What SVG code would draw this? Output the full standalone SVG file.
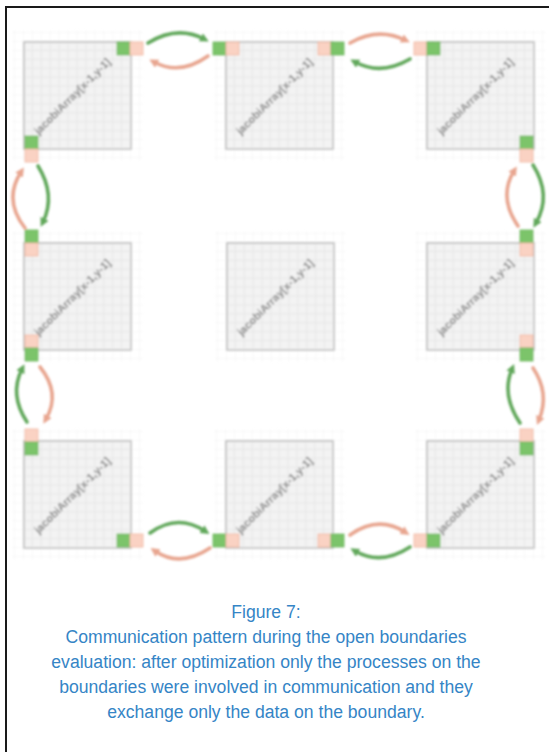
<svg xmlns="http://www.w3.org/2000/svg" xmlns:xlink="http://www.w3.org/1999/xlink" width="549" height="752" viewBox="0 0 549 752">
  <style>
    .frame { stroke: #1a1a1a; stroke-width: 2; fill: none; }
    .cell { fill: #f3f3f3; stroke: #bcbcbc; stroke-width: 1.6; }
    .halo { fill: url(#faintGrid); }
    .grid { fill: url(#grid); }
    .lbl { font-family: "Liberation Sans", Arial, sans-serif; font-size: 11px; font-weight: bold; fill: #858585; text-anchor: middle; }
    .own { fill: #7cc46a; stroke: #69b458; stroke-width: 0.8; }
    .ghost { fill: #fad2c3; stroke: #f0b49e; stroke-width: 0.8; }
    .send-g { fill: none; stroke: #62a85c; stroke-width: 3.6; stroke-linecap: round; marker-end: url(#headG); }
    .send-p { fill: none; stroke: #e8a690; stroke-width: 3.6; stroke-linecap: round; marker-end: url(#headP); }
    .cap { font-family: "Liberation Sans", Arial, sans-serif; font-size: 17.6px; fill: #3585c6; text-anchor: middle; }
  </style>
  <defs>
    <pattern id="grid" patternUnits="userSpaceOnUse" width="8.9167" height="8.9167">
      <path d="M8.9167,0 V8.9167 M0,8.9167 H8.9167" stroke="#d6d6d6" stroke-width="0.9" fill="none"/>
    </pattern>
    <pattern id="faintGrid" patternUnits="userSpaceOnUse" width="8.9167" height="8.9167">
      <path d="M8.9167,0 V8.9167 M0,8.9167 H8.9167" stroke="#f0f0f0" stroke-width="0.9" fill="none"/>
    </pattern>
    <marker id="headG" markerUnits="userSpaceOnUse" markerWidth="9" markerHeight="9" viewBox="0 0 10 10" refX="4" refY="5" orient="auto">
      <path d="M0,0 L10,5 L0,10 z" fill="#62a85c"/>
    </marker>
    <marker id="headP" markerUnits="userSpaceOnUse" markerWidth="9" markerHeight="9" viewBox="0 0 10 10" refX="4" refY="5" orient="auto">
      <path d="M0,0 L10,5 L0,10 z" fill="#e8a690"/>
    </marker>
    <!-- one process sub-domain: shaded grid with its array label -->
    <g id="block">
      <rect class="halo" x="-12" y="-12" width="131" height="131"/>
      <rect class="cell" x="0" y="0" width="107" height="107"/>
      <rect class="grid" x="0" y="0" width="107" height="107"/>
      <text class="lbl" transform="translate(51,57) rotate(-45)">jacobiArray[x-1,y-1]</text>
    </g>
    <filter id="soft" x="-5%" y="-5%" width="110%" height="110%">
      <feGaussianBlur stdDeviation="0.8"/>
    </filter>
  </defs>

  <rect x="0" y="0" width="549" height="752" fill="#ffffff"/>

  <!-- page frame -->
  <path class="frame" d="M5,7 H549 M6,7 V752"/>

  <g filter="url(#soft)">
    <!-- top row -->
    <g id="blk-tl" transform="translate(24,42)"><use href="#block"/></g>
    <g id="blk-tm" transform="translate(226,42)"><use href="#block"/></g>
    <g id="blk-tr" transform="translate(427,42)"><use href="#block"/></g>
    <!-- middle row -->
    <g id="blk-ml" transform="translate(24,243)"><use href="#block"/></g>
    <g id="blk-mm" transform="translate(227,243)"><use href="#block"/></g>
    <g id="blk-mr" transform="translate(427,243)"><use href="#block"/></g>
    <!-- bottom row -->
    <g id="blk-bl" transform="translate(24,441)"><use href="#block"/></g>
    <g id="blk-bm" transform="translate(226,441)"><use href="#block"/></g>
    <g id="blk-br" transform="translate(427,441)"><use href="#block"/></g>

    <!-- boundary cells: green = owned data, pink = ghost copy -->
    <g id="halo-cells">
      <rect class="own" x="117" y="42" width="13" height="13"/>
      <rect class="ghost" x="130" y="42" width="13" height="13"/>
      <rect class="own" x="213" y="42" width="13" height="13"/>
      <rect class="ghost" x="226" y="42" width="13" height="13"/>
      <rect class="ghost" x="318" y="42" width="13" height="13"/>
      <rect class="own" x="331" y="42" width="13" height="13"/>
      <rect class="ghost" x="414" y="42" width="13" height="13"/>
      <rect class="own" x="427" y="42" width="13" height="13"/>

      <rect class="own" x="25" y="136" width="13" height="13"/>
      <rect class="ghost" x="25" y="149" width="13" height="13"/>
      <rect class="own" x="520" y="136" width="13" height="13"/>
      <rect class="ghost" x="520" y="149" width="13" height="13"/>

      <rect class="own" x="25" y="230" width="13" height="13"/>
      <rect class="ghost" x="25" y="243" width="13" height="13"/>
      <rect class="ghost" x="25" y="335" width="13" height="13"/>
      <rect class="own" x="25" y="348" width="13" height="13"/>
      <rect class="own" x="520" y="230" width="13" height="13"/>
      <rect class="ghost" x="520" y="243" width="13" height="13"/>
      <rect class="ghost" x="520" y="335" width="13" height="13"/>
      <rect class="own" x="520" y="348" width="13" height="13"/>

      <rect class="ghost" x="25" y="429" width="13" height="13"/>
      <rect class="own" x="25" y="442" width="13" height="13"/>
      <rect class="ghost" x="520" y="429" width="13" height="13"/>
      <rect class="own" x="520" y="442" width="13" height="13"/>

      <rect class="own" x="117" y="534" width="13" height="13"/>
      <rect class="ghost" x="130" y="534" width="13" height="13"/>
      <rect class="own" x="213" y="534" width="13" height="13"/>
      <rect class="ghost" x="226" y="534" width="13" height="13"/>
      <rect class="ghost" x="318" y="534" width="13" height="13"/>
      <rect class="own" x="331" y="534" width="13" height="13"/>
      <rect class="ghost" x="414" y="534" width="13" height="13"/>
      <rect class="own" x="427" y="534" width="13" height="13"/>
    </g>

    <!-- message exchanges between neighbouring processes -->
    <g id="connectors">
      <path class="send-g" d="M148,43 Q177,25 204,39"/>
      <path class="send-p" d="M208,56 Q180,76 154,62"/>
      <path class="send-p" d="M350,43 Q378,27 405,40"/>
      <path class="send-g" d="M410,59 Q381,76 355,62"/>

      <path class="send-p" d="M25,228 Q3,200 21,172"/>
      <path class="send-g" d="M38,166 Q56,195 43,222"/>
      <path class="send-g" d="M27,422 Q9,395 22,369"/>
      <path class="send-p" d="M40,367 Q61,393 46,419"/>

      <path class="send-p" d="M518,226 Q498,197 514,171"/>
      <path class="send-g" d="M533,165 Q552,195 536,223"/>
      <path class="send-g" d="M520,423 Q501,395 512,369"/>
      <path class="send-p" d="M533,368 Q550,393 539,420"/>

      <path class="send-g" d="M150,533 Q177,513 205,531"/>
      <path class="send-p" d="M210,548 Q180,568 155,551"/>
      <path class="send-p" d="M350,535 Q378,515 405,532"/>
      <path class="send-g" d="M410,547 Q381,566 355,551"/>
    </g>
  </g>

  <!-- caption -->
  <g id="caption">
    <text class="cap" x="266" y="618">Figure 7:</text>
    <text class="cap" x="266" y="643">Communication pattern during the open boundaries</text>
    <text class="cap" x="266" y="668">evaluation: after optimization only the processes on the</text>
    <text class="cap" x="266" y="693">boundaries were involved in communication and they</text>
    <text class="cap" x="266" y="718">exchange only the data on the boundary.</text>
  </g>
</svg>
